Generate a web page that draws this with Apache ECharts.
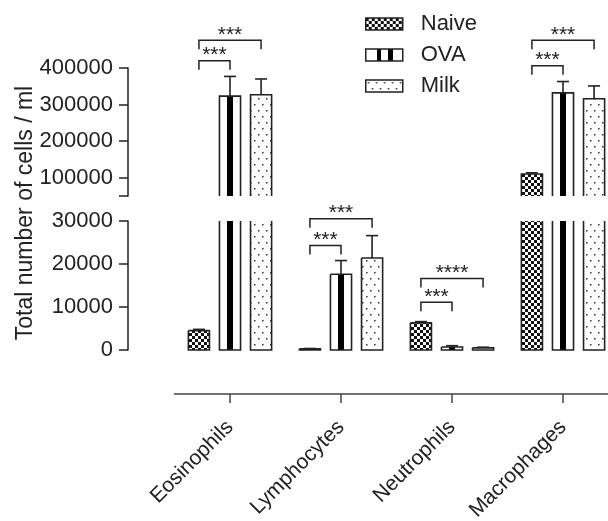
<!DOCTYPE html>
<html><head><meta charset="utf-8">
<script src="https://cdn.jsdelivr.net/npm/echarts@6/dist/echarts.min.js"></script>
<style>html,body{margin:0;padding:0;background:#fff}#c{width:608px;height:521px}</style>
</head><body><div id="c"></div>
<script>
const categories = ['Eosinophils', 'Lymphocytes', 'Neutrophils', 'Macrophages'];
const groups = ['Naive', 'OVA', 'Milk'];
const naive    = [4500, 300, 6300, 110000];
const naiveErr = [300, 50, 300, 3500];
const ova      = [323000, 17600, 700, 332000];
const ovaErr   = [54000, 3200, 300, 31000];
const milk     = [327000, 21400, 500, 316000];
const milkErr  = [43000, 5200, 150, 35000];
const upperLabels = [100000, 200000, 300000, 400000];
const upperRange = [50000, 400000];
const lowerRange = [0, 30000];
// significance brackets: category index, from group, to group, height, label
const bracketCat    = [0, 0, 1, 1, 2, 2, 3, 3];
const bracketFrom   = [0, 0, 0, 0, 0, 0, 0, 0];
const bracketTo     = [1, 2, 1, 2, 1, 2, 1, 2];
const bracketHeight = [420000, 476000, 24300, 30500, 11100, 16600, 406000, 476000];
const bracketLabel  = ['***', '***', '***', '***', '***', '****', '***', '***'];

const FONT = 'Liberation Sans, Arial, sans-serif';
const INK = '#222';

function makeCanvas(w, h, draw) {
  const c = document.createElement('canvas');
  c.width = w; c.height = h;
  const ctx = c.getContext('2d');
  ctx.fillStyle = '#fff'; ctx.fillRect(0, 0, w, h);
  draw(ctx);
  return c;
}
const checker = makeCanvas(6, 6, ctx => {
  ctx.fillStyle = '#111';
  ctx.fillRect(0, 0, 3, 3); ctx.fillRect(3, 3, 3, 3);
});
const dots = makeCanvas(8, 12, ctx => {
  ctx.fillStyle = '#333';
  ctx.fillRect(2, 2, 1.5, 1.5); ctx.fillRect(6, 8, 1.5, 1.5);
});
function stripes(stops) {
  const cs = [];
  stops.forEach(([a, b]) => {
    cs.push({offset: a, color: '#fff'}, {offset: a, color: '#000'},
            {offset: b, color: '#000'}, {offset: b, color: '#fff'});
  });
  return {type: 'linear', x: 0, y: 0, x2: 1, y2: 0,
    colorStops: [{offset: 0, color: '#fff'}].concat(cs, [{offset: 1, color: '#fff'}])};
}
const fills = [
  {image: checker, repeat: 'repeat'},
  stripes([[0.38, 0.62]]),
  {image: dots, repeat: 'repeat'}
];
const legendFills = [fills[0], stripes([[0.3, 0.42], [0.6, 0.72]]), fills[2]];

const values = [naive, ova, milk];
const errs = [naiveErr, ovaErr, milkErr];

function barRenderer(gi, range, isLower) {
  return function (params, api) {
    const cat = api.value(0), v = api.value(1), err = api.value(2);
    if (v <= range[0]) return null;
    const band = api.size([1, 0])[0];
    const bw = band * 0.19, step = band * 0.28;
    const base = api.coord([cat, range[0]]);
    const cx = base[0] + (gi - 1) * step;
    const yBase = base[1];
    const clipped = v > range[1];
    const yTop = api.coord([cat, Math.min(v, range[1])])[1];
    const x0 = cx - bw / 2, x1 = cx + bw / 2;
    const children = [{
      type: 'rect', shape: {x: x0, y: yTop, width: bw, height: yBase - yTop},
      style: {fill: fills[gi]}
    }];
    let pts;
    if (isLower && clipped) pts = [[x0, yTop], [x0, yBase], [x1, yBase], [x1, yTop]];
    else if (isLower) pts = [[x0, yTop], [x0, yBase], [x1, yBase], [x1, yTop], [x0, yTop]];
    else pts = [[x0, yBase], [x0, yTop], [x1, yTop], [x1, yBase]];
    children.push({type: 'polyline', shape: {points: pts},
      style: {stroke: INK, lineWidth: 1.6, fill: null, lineJoin: 'miter'}});
    if (!clipped && err > 0) {
      const yErr = api.coord([cat, v + err])[1];
      children.push({type: 'line', shape: {x1: cx, y1: yTop, x2: cx, y2: yErr},
        style: {stroke: INK, lineWidth: 1.6}});
      children.push({type: 'line', shape: {x1: cx - 6, y1: yErr, x2: cx + 6, y2: yErr},
        style: {stroke: INK, lineWidth: 1.6}});
    }
    return {type: 'group', children};
  };
}

function bracketRenderer(labels) {
  return function (params, api) {
    const cat = api.value(0), h = api.value(1), g1 = api.value(2), g2 = api.value(3);
    const band = api.size([1, 0])[0];
    const step = band * 0.28;
    const c = api.coord([cat, h]);
    const x1 = c[0] + (g1 - 1) * step, x2 = c[0] + (g2 - 1) * step;
    const y = c[1];
    const leg = 9;
    return {type: 'group', children: [
      {type: 'polyline', shape: {points: [[x1, y + leg], [x1, y], [x2, y], [x2, y + leg]]},
        style: {stroke: INK, lineWidth: 1.5, fill: null}},
      {type: 'text', x: (x1 + x2) / 2, y: y + 5,
        style: {text: labels[params.dataIndex], fontSize: 21, fontFamily: FONT, fill: INK,
          align: 'center', verticalAlign: 'bottom'}}
    ]};
  };
}

const series = [];
[[0, upperRange, false], [1, lowerRange, true]].forEach(([gIdx, range, isLower]) => {
  groups.forEach((name, gi) => {
    series.push({
      type: 'custom', name, xAxisIndex: gIdx, yAxisIndex: gIdx,
      itemStyle: {color: '#555'},
      renderItem: barRenderer(gi, range, isLower),
      data: categories.map((c, i) => [i, values[gi][i], errs[gi][i]])
    });
  });
  const idx = bracketHeight.map((h, i) => i).filter(i => (bracketHeight[i] >= upperRange[0]) === !isLower);
  series.push({
    type: 'custom', name: 'sig' + gIdx, xAxisIndex: gIdx, yAxisIndex: gIdx, silent: true,
    renderItem: bracketRenderer(idx.map(i => bracketLabel[i])),
    data: idx.map(i => [bracketCat[i], bracketHeight[i], bracketFrom[i], bracketTo[i]])
  });
});

const gridLeft = 174.5, gridWidth = 444, yOff = 46.5;
const axisLineStyle = {lineStyle: {color: INK, width: 1.5}};
const plain = v => String(v);
const option = {
  backgroundColor: '#fff',
  animation: false,
  legend: {
    orient: 'vertical', left: 360, top: 8, itemWidth: 37, itemHeight: 12, itemGap: 9,
    icon: 'rect',
    textStyle: {fontSize: 22, fontFamily: FONT, color: INK, padding: [0, 0, 0, 13]},
    data: groups.map((g, gi) => ({name: g,
      itemStyle: {color: legendFills[gi], borderColor: INK, borderWidth: 1.5}}))
  },
  grid: [
    {left: gridLeft, width: gridWidth, top: 68, height: 128, outerBoundsMode: 'none'},
    {left: gridLeft, width: gridWidth, top: 221, height: 129, outerBoundsMode: 'none'},
    {left: gridLeft, width: gridWidth, top: 72, height: 282, outerBoundsMode: 'none'}
  ],
  xAxis: [
    {type: 'category', gridIndex: 0, data: categories, show: false},
    {type: 'category', gridIndex: 1, data: categories, offset: 44,
      axisLine: {show: true, onZero: false, lineStyle: {color: '#444', width: 1.5}},
      axisTick: {show: true, alignWithLabel: true, length: 9, lineStyle: {color: '#444', width: 1.5}},
      axisLabel: {rotate: 45, fontSize: 21, fontFamily: FONT, color: INK, margin: 30}},
    {type: 'category', gridIndex: 2, data: categories, show: false}
  ],
  yAxis: [
    {type: 'value', gridIndex: 0, min: upperRange[0], max: upperRange[1], offset: yOff,
      axisLine: {show: true, ...axisLineStyle},
      axisTick: {show: true, length: 9, customValues: [upperRange[0]].concat(upperLabels), lineStyle: {color: INK, width: 1.5}},
      axisLabel: {customValues: upperLabels, formatter: plain, fontSize: 22, fontFamily: FONT, color: INK, margin: 15},
      splitLine: {show: false}},
    {type: 'value', gridIndex: 1, min: lowerRange[0], max: lowerRange[1], interval: 10000, offset: yOff,
      axisLine: {show: true, ...axisLineStyle},
      axisTick: {show: true, length: 9, lineStyle: {color: INK, width: 1.5}},
      axisLabel: {formatter: plain, fontSize: 22, fontFamily: FONT, color: INK, margin: 15},
      splitLine: {show: false}},
    {type: 'value', gridIndex: 2, offset: yOff, name: 'Total number of cells / ml',
      nameLocation: 'middle', nameGap: 91,
      nameTextStyle: {fontSize: 23, fontFamily: FONT, color: INK},
      axisLine: {show: false}, axisTick: {show: false}, axisLabel: {show: false}, splitLine: {show: false}},
    {type: 'value', gridIndex: 0, min: upperRange[0], max: upperRange[1], offset: yOff,
      axisLine: {show: false}, axisLabel: {show: false}, splitLine: {show: false},
      axisTick: {show: true, inside: true, length: 8, customValues: [upperRange[0]], lineStyle: {color: INK, width: 1.5}}},
    {type: 'value', gridIndex: 1, min: lowerRange[0], max: lowerRange[1], offset: yOff,
      axisLine: {show: false}, axisLabel: {show: false}, splitLine: {show: false},
      axisTick: {show: true, inside: true, length: 8, customValues: [lowerRange[1]], lineStyle: {color: INK, width: 1.5}}}
  ],
  series
};
const chart = echarts.init(document.getElementById('c'), null, {renderer: 'canvas'});
chart.setOption(option);
</script></body></html>
